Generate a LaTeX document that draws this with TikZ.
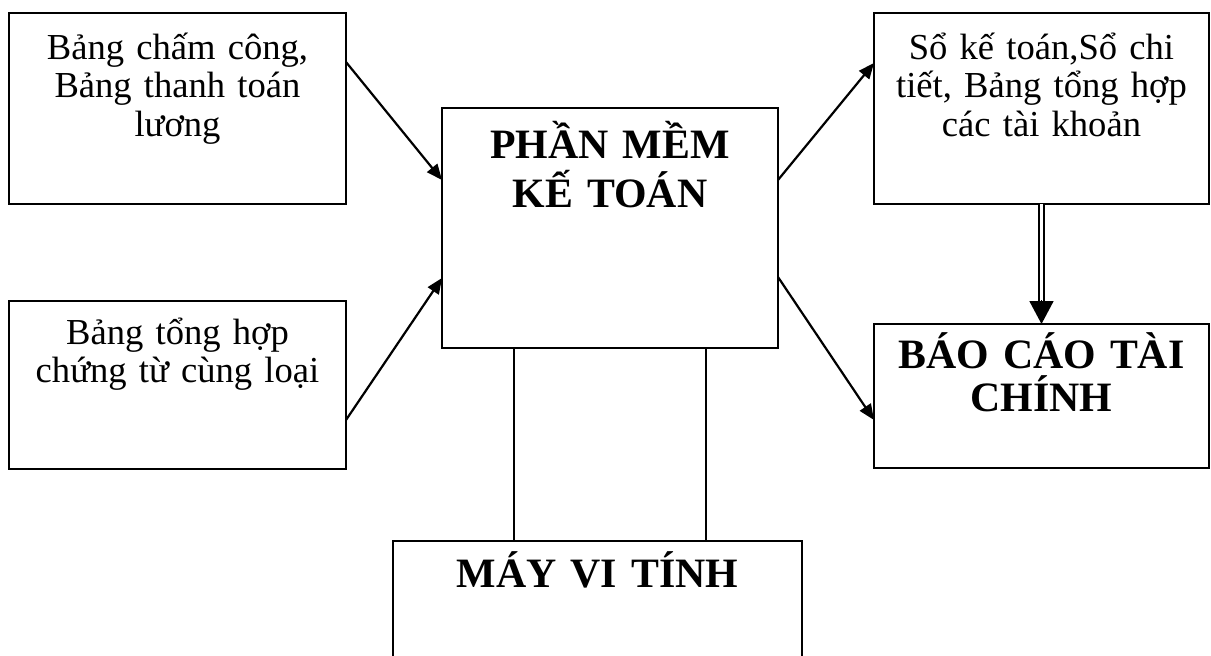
\documentclass[tikz,border=0pt]{standalone}
\usepackage{fontspec}
\setmainfont{Liberation Serif}
\usetikzlibrary{arrows.meta}
\newlength{\pxu}
\setlength{\pxu}{0.3826pt}

\begin{document}
\begin{tikzpicture}[x=1\pxu, y=-1\pxu,
    khung/.style={draw, line width=2.2\pxu, inner sep=0pt, outer sep=0pt, anchor=north west, align=center},
    chuthuong/.style={font=\fontsize{14pt}{14.9pt}\selectfont},
    chudam/.style={font=\fontsize{16pt}{#1}\selectfont\bfseries},
    muiten/.style={-{Triangle[length=6pt, width=5pt]}, line width=2.2\pxu},
    noi/.style={line width=1.8\pxu}]
    \clip (0,0) rectangle (1211,655);
    \node[khung, chuthuong, text width=337\pxu, text height=46\pxu, text depth=145\pxu] (bang1) at (9,13) {Bảng chấm công,\\ Bảng thanh toán\\ lương};
    \node[khung, chuthuong, text width=337\pxu, text height=43\pxu, text depth=125\pxu] (bang2) at (9,301) {Bảng tổng hợp\\ chứng từ cùng loại};
    \node[khung, chudam=19.1pt, text width=336\pxu, text height=50\pxu, text depth=190\pxu] (phanmem) at (442,108) {PHẦN MỀM\\ KẾ TOÁN};
    \node[khung, chuthuong, text width=335\pxu, text height=46\pxu, text depth=145\pxu] (soketoan) at (874,13) {Sổ kế toán,Sổ chi\\ tiết, Bảng tổng hợp\\ các tài khoản};
    \node[khung, chudam=16.8pt, text width=335\pxu, text height=44\pxu, text depth=100\pxu] (baocao) at (874,324) {BÁO CÁO TÀI\\ CHÍNH};
    \node[khung, chudam=19.1pt, text width=409\pxu, text height=46\pxu, text depth=140\pxu] (mayvitinh) at (393,541) {MÁY VI TÍNH};
    \draw[muiten] ([yshift=-49\pxu]bang1.north east) -- ([yshift=-72\pxu]phanmem.north west);
    \draw[muiten] ([yshift=49\pxu]bang2.south east) -- ([yshift=-170\pxu]phanmem.north west);
    \draw[muiten] ([yshift=-72\pxu]phanmem.north east) -- ([yshift=-50\pxu]soketoan.north west);
    \draw[muiten] ([yshift=-169\pxu]phanmem.north east) -- ([yshift=48\pxu]baocao.south west);
    \draw[double, double distance=3.5\pxu, line width=1.5\pxu, shorten >=20\pxu] (soketoan.south) -- (baocao.north);
    \draw[-{Triangle[length=8.8pt, width=9.2pt]}, line width=1.5\pxu] ([yshift=24\pxu]baocao.north) -- (baocao.north);
    \draw[noi] ([xshift=72\pxu]phanmem.south west) -- ([xshift=72\pxu]phanmem.south west |- mayvitinh.north);
    \draw[noi] ([xshift=-72\pxu]phanmem.south east) -- ([xshift=-72\pxu]phanmem.south east |- mayvitinh.north);
\end{tikzpicture}
\end{document}
